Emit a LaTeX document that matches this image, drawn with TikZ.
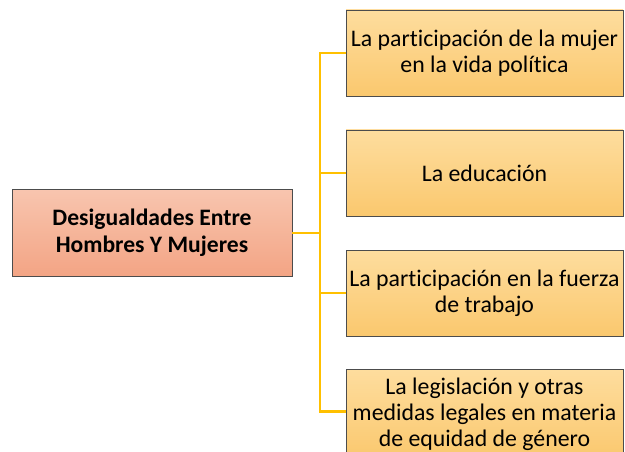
\documentclass[tikz,border=0pt]{standalone}
\usepackage{fontspec}
\setmainfont{Carlito}[RawFeature=-liga]
\begin{document}
\begin{tikzpicture}[x=1pt,y=-1pt,
  boxbase/.style={draw=black!70, line width=0.8pt, align=center, inner sep=2pt,
    font=\fontsize{23.8}{26}\selectfont, text=black},
  leftbox/.style={boxbase, minimum width=280pt, minimum height=87pt,
    top color={rgb,255:red,248;green,197;blue,175}, bottom color={rgb,255:red,243;green,164;blue,132}},
  rightbox/.style={boxbase, minimum width=277pt, minimum height=86pt,
    top color={rgb,255:red,254;green,221;blue,158}, bottom color={rgb,255:red,250;green,200;blue,110}},
  conn/.style={draw={rgb,255:red,255;green,192;blue,0}, line width=2.6pt}]
\useasboundingbox (0,0) rectangle (625,452);
\clip (0,0) rectangle (625,452);
\node[leftbox, font=\bfseries\fontsize{23.6}{27}\selectfont] (root) at (152,233) {Desigualdades Entre\\Hombres Y Mujeres};
\node[rightbox] (b1) at (484.5,53) {La participación de la mujer\\en la vida política};
\node[rightbox] (b2) at (484.5,173) {La educación};
\node[rightbox] (b3) at (484.5,293) {La participación en la fuerza\\de trabajo};
\node[rightbox, minimum height=90pt] (b4) at (484.5,414) {La legislación y otras\\medidas legales en materia\\de equidad de género};
\coordinate (j) at (320,233);
\draw[conn] (root.east) -- (j);
\draw[conn] (b1.west) -- (320,53) -- (320,411.5) -- (b4.west |- 0,411.5);
\draw[conn] (b2.west) -- (320,173);
\draw[conn] (b3.west) -- (320,293);
\end{tikzpicture}
\end{document}
